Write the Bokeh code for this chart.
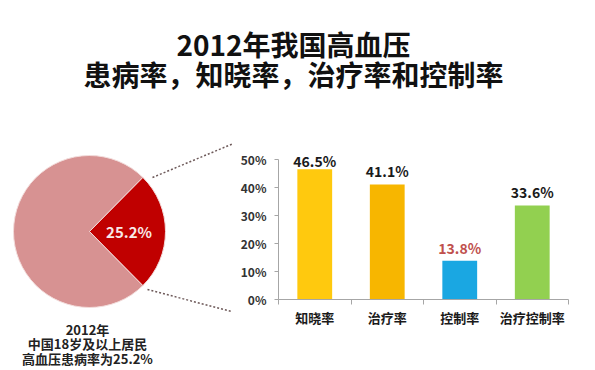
import numpy as np
from bokeh.plotting import figure
from bokeh.models import Range1d, FixedTicker
from bokeh.layouts import column, row
from bokeh.embed import file_html
from bokeh.resources import INLINE
from bokeh.core.properties import value

# ---------------- data ----------------
title_lines = ["2012年我国高血压", "患病率，知晓率，治疗率和控制率"]
prevalence = 25.2
pie_caption = ["2012年", "中国18岁及以上居民", "高血压患病率为25.2%"]
categories = ["知晓率", "治疗率", "控制率", "治疗控制率"]
rates = [46.5, 41.1, 13.8, 33.6]
y_ticks = [0, 10, 20, 30, 40, 50]

# ---------------- styles ----------------
FONT = "Noto Sans CJK SC"
bar_colors = ["#FFC90E", "#F7B600", "#1AA7E2", "#92D050"]
label_colors = ["#1a1a1a", "#1a1a1a", "#C0504D", "#1a1a1a"]
PIE_BIG = "#D79292"
PIE_RED = "#C00000"


def blank(w, h):
    p = figure(width=w, height=h, x_range=Range1d(0, w), y_range=Range1d(0, h),
               output_backend="svg", toolbar_location=None,
               x_axis_location=None, y_axis_location=None, min_border=0,
               frame_align=False)
    p.grid.visible = False
    p.outline_line_color = None
    return p


# ---------------- title ----------------
TW, TH = 595, 98
pt = blank(TW, TH)
pt.text(x=[293, 293], y=[55, 25], text=title_lines, text_font=value(FONT),
        text_font_size="28px", text_font_style="bold", text_align="center",
        text_baseline="middle", text_color="#111111")

# ---------------- pie ----------------
PW, PH = 232, 272
pp = blank(PW, PH)
cx, cy, r = 89, 139, 76
half = np.pi * prevalence / 100.0
pp.wedge(x=cx, y=cy, radius=r, start_angle=half, end_angle=2 * np.pi - half,
         fill_color=PIE_BIG, line_color="#F2DCDB", line_width=1)
pp.wedge(x=cx, y=cy, radius=r, start_angle=-half, end_angle=half,
         fill_color=PIE_RED, line_color="#F2DCDB", line_width=1)
pp.text(x=[cx + 0.52 * r], y=[cy], text=[f"{prevalence}%"], text_font=value(FONT),
        text_font_size="15px", text_font_style="bold", text_align="center",
        text_baseline="middle", text_color="#F8E8E8")
# dotted connectors
pp.segment(x0=[152, 147], y0=[193, 81], x1=[232, 231], y1=[226.6, 59],
           line_color="#6E5A5A", line_width=1.5, line_dash="2 2")
pp.text(x=[87, 87, 87], y=[41, 27, 12], text=pie_caption, text_font=value(FONT),
        text_font_size="13px", text_font_style="bold", text_align="center",
        text_baseline="middle", text_color="#222222")

# ---------------- bars ----------------
pb = figure(width=363, height=272, x_range=Range1d(0, 4), y_range=Range1d(0, 55),
            output_backend="svg", toolbar_location=None, frame_align=False,
            min_border_left=46, min_border_right=27, min_border_top=47, min_border_bottom=71)
pb.grid.visible = False
pb.outline_line_color = None
xs = np.arange(len(categories)) + 0.5
pb.vbar(x=xs, top=rates, width=0.48, fill_color=bar_colors, line_color=None)
label_y = np.minimum(np.array(rates) + 4.7, 49.3)
pb.text(x=xs, y=label_y, text=[f"{v}%" for v in rates], text_font=value(FONT),
        text_font_size="14px", text_font_style="bold", text_align="center",
        text_baseline="middle", text_color=label_colors)

ya = pb.yaxis[0]
ya.ticker = FixedTicker(ticks=y_ticks)
ya.bounds = (0, 50)
ya.major_label_overrides = {t: f"{t}%" for t in y_ticks}
ya.major_tick_in = 0
ya.major_tick_out = 4
ya.minor_tick_line_color = None
ya.axis_line_color = "#A6A6A6"
ya.major_tick_line_color = "#A6A6A6"
ya.major_label_text_font = FONT
ya.major_label_text_font_size = "12px"
ya.major_label_text_font_style = "bold"
ya.major_label_text_color = "#333333"
ya.major_label_standoff = 8

xa = pb.xaxis[0]
xa.ticker = FixedTicker(ticks=list(xs), minor_ticks=list(range(len(categories) + 1)))
xa.major_label_overrides = {float(x): c for x, c in zip(xs, categories)}
xa.major_tick_in = 0
xa.major_tick_out = 0
xa.minor_tick_in = 0
xa.minor_tick_out = 5
xa.minor_tick_line_color = "#A6A6A6"
xa.axis_line_color = "#A6A6A6"
xa.major_label_text_font = FONT
xa.major_label_text_font_size = "13px"
xa.major_label_text_font_style = "bold"
xa.major_label_text_color = "#1a1a1a"
xa.major_label_standoff = 3

layout = column(pt, row(pp, pb))
open("out.html", "w").write(file_html(layout, INLINE))
